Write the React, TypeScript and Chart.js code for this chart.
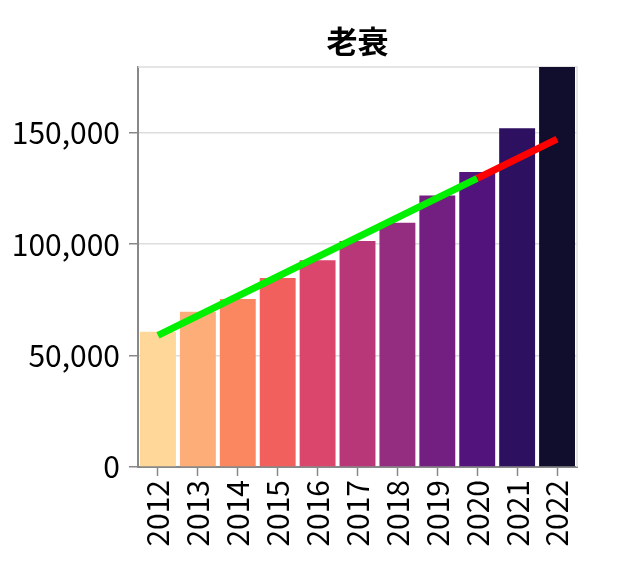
import React, { useEffect, useRef } from "react";
import { Chart, registerables } from "chart.js";

Chart.register(...registerables);

const years = ["2012", "2013", "2014", "2015", "2016", "2017", "2018", "2019", "2020", "2021", "2022"];
const deaths = [60719, 69720, 75389, 84810, 92806, 101396, 109605, 121863, 132440, 152027, 179529];
const barColors = [
  "#fed799", "#fdae78", "#fb8761", "#f1605d", "#da466c", "#b73779",
  "#942d80", "#731f81", "#52137c", "#2d1160", "#110d2d",
];
const trendFit = [59083, null, null, null, null, null, null, null, 129527, null, null];
const trendForecast = [null, null, null, null, null, null, null, null, 129527, null, 147138];
const yTicks = [0, 50000, 100000, 150000];
const yMax = 179529;
const titleText = "老衰";

const FONT = "'Noto Sans CJK JP', 'Noto Sans', sans-serif";

const framePlugin = {
  id: "frame",
  beforeDatasetsDraw(chart: any) {
    const { ctx, chartArea } = chart;
    ctx.save();
    ctx.strokeStyle = "#dddddd";
    ctx.lineWidth = 1.5;
    ctx.beginPath();
    ctx.moveTo(chartArea.left, chartArea.top);
    ctx.lineTo(chartArea.right, chartArea.top);
    ctx.lineTo(chartArea.right, chartArea.bottom);
    ctx.stroke();
    ctx.restore();
  },
  afterDraw(chart: any) {
    const { ctx, chartArea } = chart;
    ctx.save();
    ctx.fillStyle = "#000";
    ctx.font = `bold 31px ${FONT}`;
    ctx.textAlign = "center";
    ctx.textBaseline = "middle";
    ctx.fillText(titleText, (chartArea.left + chartArea.right) / 2, 41.5);
    ctx.restore();
  },
};

export default function App() {
  const ref = useRef<HTMLCanvasElement | null>(null);
  useEffect(() => {
    if (!ref.current) return;
    const chart = new Chart(ref.current, {
      type: "bar",
      data: {
        labels: years,
        datasets: [
          {
            type: "line",
            data: trendForecast,
            borderColor: "#ff0000",
            borderWidth: 7,
            pointRadius: 0,
            spanGaps: true,
            order: 0,
          } as any,
          {
            type: "line",
            data: trendFit,
            borderColor: "#00f000",
            borderWidth: 7,
            pointRadius: 0,
            spanGaps: true,
            order: 1,
          } as any,
          {
            type: "bar",
            data: deaths,
            backgroundColor: barColors,
            categoryPercentage: 1,
            barPercentage: 0.9,
            order: 2,
          },
        ],
      },
      options: {
        animation: false,
        responsive: true,
        maintainAspectRatio: false,
        layout: { padding: { left: 0, right: 49, top: 67, bottom: 0 } },
        plugins: {
          legend: { display: false },
          tooltip: { enabled: false },
          title: { display: false },
        },
        scales: {
          x: {
            offset: true,
            grid: {
              offset: false,
              drawOnChartArea: false,
              drawTicks: true,
              tickLength: 9,
              tickColor: "#888888",
              tickWidth: 1.5,
            },
            border: { color: "#888888", width: 2 },
            ticks: {
              minRotation: 90,
              maxRotation: 90,
              padding: 4,
              color: "#000",
              font: { family: FONT, size: 30 },
            },
            afterFit(scale: any) {
              scale.height = 113;
            },
          },
          y: {
            min: 0,
            max: yMax,
            afterBuildTicks(scale: any) {
              scale.ticks = yTicks.map((v) => ({ value: v }));
            },
            grid: {
              color: "#dddddd",
              lineWidth: 1.5,
              tickLength: 9,
              tickColor: "#888888",
              tickWidth: 1.5,
            },
            border: { color: "#888888", width: 2 },
            ticks: {
              padding: 9,
              color: "#000",
              font: { family: FONT, size: 30 },
              callback: (v: any) => Number(v).toLocaleString("en-US"),
            },
            afterFit(scale: any) {
              scale.width = 138;
            },
          },
        },
      },
      plugins: [framePlugin],
    } as any);
    return () => chart.destroy();
  }, []);
  return (
    <div style={{ position: "absolute", left: 0, top: 0, width: 626, height: 580, background: "#fff" }}>
      <canvas ref={ref} />
    </div>
  );
}
